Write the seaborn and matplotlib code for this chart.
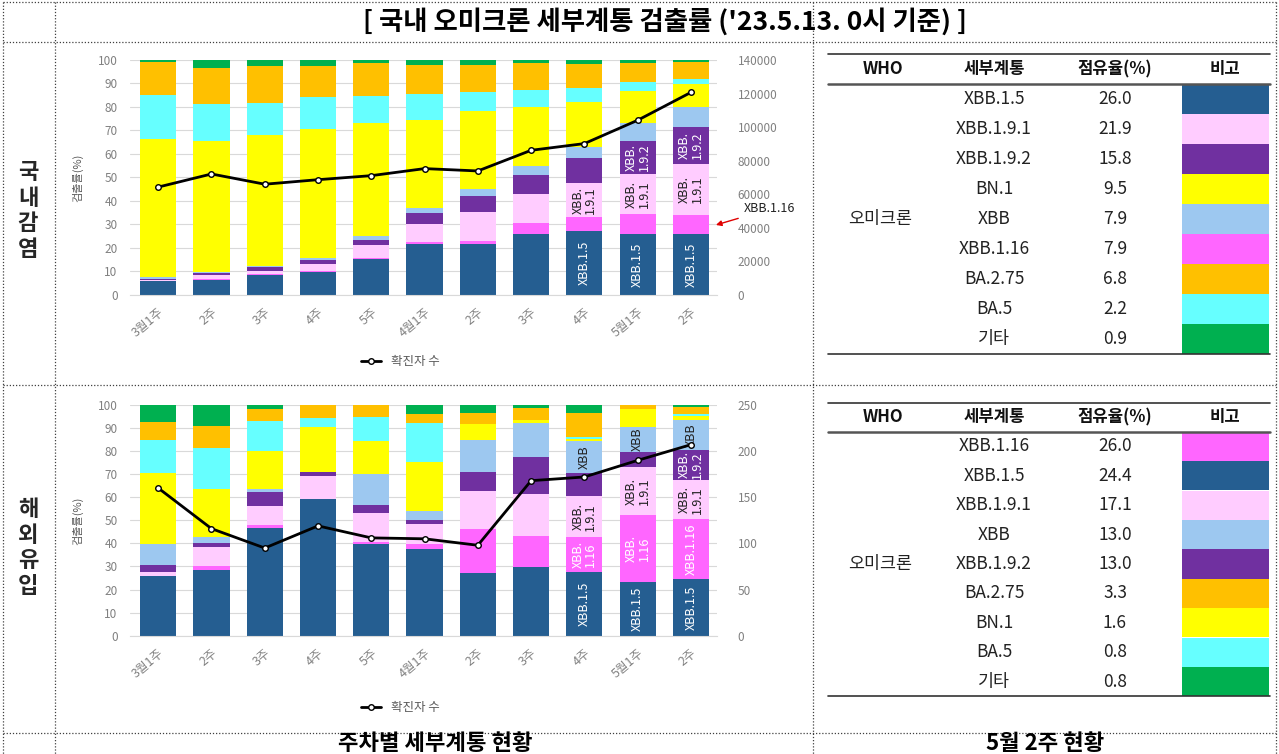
import numpy as np
import matplotlib
matplotlib.use("Agg")
import matplotlib.pyplot as plt
from matplotlib.lines import Line2D
import seaborn as sns

# === DATA ===
weeks = ["3월1주", "2주", "3주", "4주", "5주", "4월1주", "2주", "3주", "4주", "5월1주", "2주"]
lineages = ["XBB.1.5", "XBB.1.16", "XBB.1.9.1", "XBB.1.9.2", "XBB", "BN.1", "BA.5", "BA.2.75", "기타"]
lineage_colors = ["#255E91", "#FF66FF", "#FFCCFF", "#7030A0", "#9DC8F0",
                  "#FFFF00", "#66FFFF", "#FFC000", "#00B050"]

# domestic (국내감염), % by week
dom_xbb15 = [6.1, 6.4, 8.5, 9.9, 15.3, 21.6, 21.7, 25.8, 27.4, 25.8, 26.0]
dom_xbb116 = [0.0, 0.2, 0.3, 0.3, 0.3, 1.1, 1.4, 4.7, 5.6, 8.7, 7.9]
dom_xbb191 = [0.3, 1.9, 1.6, 3.0, 5.7, 7.5, 12.4, 12.3, 14.5, 16.8, 21.9]
dom_xbb192 = [0.2, 0.9, 1.4, 1.7, 2.2, 4.8, 6.8, 8.3, 10.7, 14.4, 15.8]
dom_xbb = [1.0, 0.4, 0.4, 1.0, 1.5, 1.9, 2.7, 3.9, 4.6, 7.6, 8.6]
dom_bn1 = [58.6, 55.6, 55.9, 54.7, 48.3, 37.6, 33.3, 25.1, 19.2, 13.7, 9.5]
dom_ba5 = [18.7, 15.9, 13.7, 13.8, 11.5, 11.2, 7.9, 7.1, 6.2, 3.8, 2.2]
dom_ba275 = [14.2, 15.2, 15.8, 12.9, 13.8, 12.2, 11.7, 11.4, 10.1, 7.8, 7.1]
dom_etc = [1.0, 3.5, 2.4, 2.7, 1.4, 2.1, 2.1, 1.4, 1.7, 1.4, 1.0]
dom_cases = [64300, 72100, 66000, 68700, 71100, 75300, 73900, 86200, 90200, 104100, 120700]

# imported (해외유입), % by week
imp_xbb15 = [26.0, 28.5, 46.8, 59.1, 39.7, 37.7, 27.0, 29.9, 27.7, 23.1, 24.4]
imp_xbb116 = [0.0, 1.7, 1.2, 0.0, 1.1, 2.0, 19.2, 13.5, 14.9, 29.2, 26.0]
imp_xbb191 = [1.5, 8.4, 8.4, 10.0, 12.2, 8.6, 16.7, 17.9, 17.9, 20.7, 17.1]
imp_xbb192 = [3.1, 1.4, 5.7, 1.9, 3.6, 1.8, 8.2, 16.2, 9.9, 6.8, 13.0]
imp_xbb = [9.0, 2.9, 1.3, 0.0, 13.5, 4.1, 13.7, 14.6, 14.1, 10.8, 13.0]
imp_bn1 = [30.8, 20.5, 16.7, 19.6, 14.4, 21.2, 6.8, 1.4, 0.9, 7.7, 1.6]
imp_ba5 = [14.4, 17.8, 13.1, 3.9, 10.4, 16.7, 0.3, 0.0, 0.6, 0.0, 0.8]
imp_ba275 = [7.7, 9.7, 5.1, 5.5, 5.1, 4.0, 4.5, 5.3, 10.7, 1.7, 3.3]
imp_etc = [7.5, 9.1, 1.7, 0.0, 0.0, 3.9, 3.6, 1.2, 3.3, 0.0, 0.8]
imp_cases = [160, 116, 95, 119, 106, 105, 98, 168, 172, 190, 207]

# in-bar labels: (week index, lineage, text)
dom_bar_labels = [(8, "XBB.1.5", "XBB.1.5"), (9, "XBB.1.5", "XBB.1.5"), (10, "XBB.1.5", "XBB.1.5"),
                  (8, "XBB.1.9.1", "XBB.\n1.9.1"), (9, "XBB.1.9.1", "XBB.\n1.9.1"),
                  (10, "XBB.1.9.1", "XBB.\n1.9.1"),
                  (9, "XBB.1.9.2", "XBB.\n1.9.2"), (10, "XBB.1.9.2", "XBB.\n1.9.2")]
imp_bar_labels = [(8, "XBB.1.5", "XBB.1.5"), (9, "XBB.1.5", "XBB.1.5"), (10, "XBB.1.5", "XBB.1.5"),
                  (8, "XBB.1.16", "XBB.\n1.16"), (9, "XBB.1.16", "XBB.\n1.16"),
                  (10, "XBB.1.16", "XBB.1.16"),
                  (8, "XBB.1.9.1", "XBB.\n1.9.1"), (9, "XBB.1.9.1", "XBB.\n1.9.1"),
                  (10, "XBB.1.9.1", "XBB.\n1.9.1"), (10, "XBB.1.9.2", "XBB.\n1.9.2"),
                  (8, "XBB", "XBB"), (9, "XBB", "XBB"), (10, "XBB", "XBB")]

# tables (5월 2주 현황)
dom_table_names = ["XBB.1.5", "XBB.1.9.1", "XBB.1.9.2", "BN.1", "XBB", "XBB.1.16", "BA.2.75", "BA.5", "기타"]
dom_table_share = [26.0, 21.9, 15.8, 9.5, 7.9, 7.9, 6.8, 2.2, 0.9]
imp_table_names = ["XBB.1.16", "XBB.1.5", "XBB.1.9.1", "XBB", "XBB.1.9.2", "BA.2.75", "BN.1", "BA.5", "기타"]
imp_table_share = [26.0, 24.4, 17.1, 13.0, 13.0, 3.3, 1.6, 0.8, 0.8]

sns.set_style("white")
plt.rcParams["font.family"] = ["Noto Sans CJK KR", "DejaVu Sans"]

W, H = 1279, 754
fig = plt.figure(figsize=(W / 100, H / 100), dpi=100)

# overlay for frame lines, titles and tables (pixel coordinates)
ov = fig.add_axes([0, 0, 1, 1])
ov.set_xlim(0, W)
ov.set_ylim(H, 0)
ov.axis("off")

GRAY = "#808080"
color_of = dict(zip(lineages, lineage_colors))
dark_text = {"XBB.1.9.1", "XBB"}


def draw_chart(rect, series, cases, ymax2, step2, bar_labels):
    ax = fig.add_axes(rect)
    stack = np.array(series)
    cum = stack.cumsum(axis=0)
    pos = np.arange(len(weeks))
    for i in range(len(lineages) - 1, -1, -1):
        sns.barplot(x=pos, y=cum[i], color=lineage_colors[i], saturation=1,
                    width=0.68, errorbar=None, linewidth=0, ax=ax)
    ax.set_ylim(0, 100)
    ax.set_yticks(np.arange(0, 101, 10))
    ax.yaxis.grid(True, color="#D9D9D9", linewidth=0.8)
    ax.set_axisbelow(True)
    for s in ["top", "left", "right"]:
        ax.spines[s].set_visible(False)
    ax.spines["bottom"].set_color("#D9D9D9")
    ax.tick_params(axis="y", length=0, pad=9, labelsize=8.5, labelcolor=GRAY)
    ax.set_xticks(pos)
    ax.set_xticklabels(weeks, rotation=40, ha="right", rotation_mode="anchor",
                       fontsize=9, color=GRAY)
    ax.tick_params(axis="x", length=0, pad=8)
    ax.set_xlabel("")
    ax.set_ylabel("검출률(%)", fontsize=8, color="#595959", labelpad=10)

    for wk, name, txt in bar_labels:
        i = lineages.index(name)
        base = cum[i - 1][wk] if i > 0 else 0
        yc = base + stack[i][wk] / 2
        ax.text(wk, yc, txt, rotation=90, ha="center", va="center", fontsize=9,
                linespacing=1.0,
                color="#222222" if name in dark_text else "white")

    ax2 = ax.twinx()
    sns.lineplot(x=pos, y=cases, ax=ax2, color="black", linewidth=2, marker="o",
                 markersize=4, markerfacecolor="white", markeredgecolor="black",
                 markeredgewidth=1, legend=False)
    ax2.set_ylim(0, ymax2)
    ax2.set_yticks(np.arange(0, ymax2 + 1, step2))
    ax2.tick_params(axis="y", length=0, pad=15, labelsize=8.5, labelcolor=GRAY)
    for s in ax2.spines.values():
        s.set_visible(False)
    ax2.set_ylabel("")
    ax.set_xlim(-0.53, 10.49)
    return ax


def frac_rect(left, top, right, bottom):
    return [left / W, 1 - bottom / H, (right - left) / W, (bottom - top) / H]


dom_series = [dom_xbb15, dom_xbb116, dom_xbb191, dom_xbb192, dom_xbb, dom_bn1, dom_ba5, dom_ba275, dom_etc]
imp_series = [imp_xbb15, imp_xbb116, imp_xbb191, imp_xbb192, imp_xbb, imp_bn1, imp_ba5, imp_ba275, imp_etc]

ax_top = draw_chart(frac_rect(130, 60, 717, 295), dom_series, dom_cases, 140000, 20000, dom_bar_labels)
ax_bot = draw_chart(frac_rect(130, 405, 717, 635.7), imp_series, imp_cases, 250, 50, imp_bar_labels)

# XBB.1.16 pointer on the domestic chart
ax_top.annotate("XBB.1.16", xy=(10.47, 29.8), xytext=(11.0, 36.6), fontsize=9,
                color="#222222", ha="left", va="center", annotation_clip=False,
                arrowprops=dict(arrowstyle="-|>", color="#E00000", lw=1, shrinkA=2,
                                shrinkB=0, mutation_scale=8))

# legends
legend_handle = Line2D([], [], color="black", linewidth=2, marker="o", markersize=4,
                       markerfacecolor="white", markeredgecolor="black")
for ly in [362, 708]:
    fig.legend(handles=[legend_handle], labels=["확진자 수"], loc="center",
               bbox_to_anchor=(400 / W, 1 - ly / H), frameon=False, fontsize=9,
               handlelength=1.6, labelcolor="#595959")

# dotted frame
frame_kw = dict(color="#404040", linestyle=(0, (1, 1.5)), linewidth=0.9)
for y in [2, 42, 385, 733]:
    ov.plot([3, 1276], [y, y], **frame_kw)
for x in [3, 55, 813, 1276]:
    ov.plot([x, x], [2, H], **frame_kw)

# titles
ov.text(665, 22, "[ 국내 오미크론 세부계통 검출률 ('23.5.13. 0시 기준) ]", ha="center", va="center",
        fontsize=19, fontweight="bold", color="black")
ov.text(435, 743, "주차별 세부계통 현황", ha="center", va="center", fontsize=16,
        fontweight="bold", color="black")
ov.text(1045, 743, "5월 2주 현황", ha="center", va="center", fontsize=16,
        fontweight="bold", color="black")
ov.text(28, 211, "국\n내\n감\n염", ha="center", va="center", fontsize=16,
        fontweight="bold", linespacing=1.15)
ov.text(28, 548, "해\n외\n유\n입", ha="center", va="center", fontsize=16,
        fontweight="bold", linespacing=1.15)


def draw_table(top_line, header_y, header_line, row_h, names, shares):
    x0, x1 = 828, 1270
    ov.plot([x0, x1], [top_line, top_line], color="#333333", linewidth=1.2)
    for txt, xc in [("WHO", 883), ("세부계통", 994), ("점유율(%)", 1115), ("비고", 1225)]:
        ov.text(xc, header_y, txt, ha="center", va="center", fontsize=12,
                fontweight="bold", color="#111111")
    ov.plot([x0, x1], [header_line, header_line], color="#555555", linewidth=1.8)
    for k, (nm, sh) in enumerate(zip(names, shares)):
        yt = header_line + k * row_h
        ov.add_patch(plt.Rectangle((1182, yt), 1269 - 1182, row_h, color=color_of[nm], lw=0))
        ov.text(994, yt + row_h / 2, nm, ha="center", va="center", fontsize=12.5, color="#222222")
        ov.text(1115, yt + row_h / 2, f"{sh:.1f}", ha="center", va="center", fontsize=12.5,
                color="#222222")
    bottom = header_line + len(names) * row_h
    ov.plot([x0, x1], [bottom, bottom], color="#333333", linewidth=1.2)
    ov.text(880, (header_line + bottom) / 2, "오미크론", ha="center", va="center",
            fontsize=12.5, color="#222222")


draw_table(54, 69, 84.3, 30, dom_table_names, dom_table_share)
draw_table(402.7, 417, 431.7, 29.4, imp_table_names, imp_table_share)

fig.savefig("out.png", dpi=100)
plt.close(fig)
